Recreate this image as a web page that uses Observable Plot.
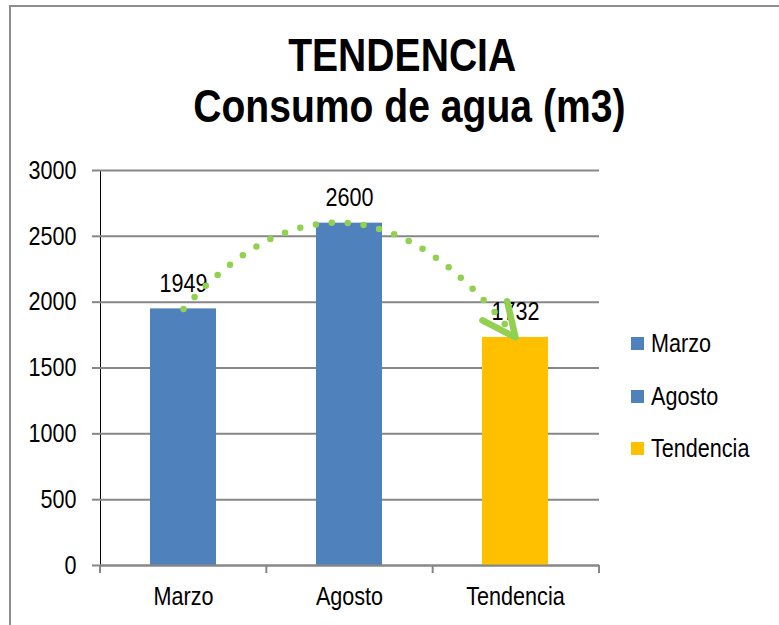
<!DOCTYPE html>
<html>
<head>
<meta charset="utf-8">
<script src="https://cdn.jsdelivr.net/npm/d3@7"></script>
<script src="https://cdn.jsdelivr.net/npm/@observablehq/plot@0.6"></script>
<style>
  body { margin: 0; background: #fff; }
  #wrap { position: relative; width: 779px; height: 625px; overflow: hidden; background: #fff;
          font-family: "Liberation Sans", Arial, sans-serif; color: #000; }
  #frame { position: absolute; left: 9px; top: 5px; width: 900px; height: 900px;
           border-left: 2px solid #8e8e8e; border-top: 2px solid #8e8e8e; }
  #chart { position: absolute; left: 0; top: 0; }
  #title { position: absolute; left: 0; width: 810px; top: 30px; text-align: center;
           font-weight: bold; font-size: 46px; line-height: 51px; }
  #title span { display: inline-block; transform: scaleX(0.85); transform-origin: 50% 50%; white-space: nowrap; }
  #legend { position: absolute; left: 631px; top: 317.5px; font-size: 26px; }
  #legend .item { height: 52.5px; display: flex; align-items: center; white-space: nowrap; }
  #legend .sw { width: 13px; height: 13px; margin-right: 7px; flex: none; }
  #legend span { display: inline-block; transform: scaleX(0.83); transform-origin: 0 50%; }
  #chart g[aria-label^="y-axis"] line, #chart g[aria-label^="y-axis"] path { stroke: #878787; stroke-width: 2px; stroke-opacity: 1; }
</style>
</head>
<body>
<div id="wrap">
  <div id="frame"></div>
  <div id="chart"></div>
  <div id="title"><div><span style="position:relative;left:-3px">TENDENCIA</span></div><div><span style="position:relative;left:4px">Consumo de agua (m3)</span></div></div>
  <div id="legend"></div>
</div>
<script>
const categories = ["Marzo", "Agosto", "Tendencia"];
const values = [1949, 2600, 1732];
const colors = ["#4F81BD", "#4F81BD", "#FFC000"];
const legendNames = ["Marzo", "Agosto", "Tendencia"];
const yTicks = [0, 500, 1000, 1500, 2000, 2500, 3000];

const data = categories.map((c, i) => ({cat: c, value: values[i], color: colors[i]}));

// quadratic curve through three equally spaced points (the hand-drawn trend arc)
function parabola(context) {
  let pts = [];
  return {
    areaStart() {}, areaEnd() {},
    lineStart() { pts = []; },
    point(x, y) { pts.push([+x, +y]); },
    lineEnd() {
      if (pts.length === 3) {
        const [p0, p1, p2] = pts;
        context.moveTo(p0[0], p0[1]);
        context.quadraticCurveTo(2 * p1[0] - (p0[0] + p2[0]) / 2, 2 * p1[1] - (p0[1] + p2[1]) / 2, p2[0], p2[1]);
      } else {
        pts.forEach((p, i) => i ? context.lineTo(p[0], p[1]) : context.moveTo(p[0], p[1]));
      }
    }
  };
}

const font = '"Liberation Sans", Arial, sans-serif';

const plot = Plot.plot({
  width: 779, height: 625,
  marginTop: 170, marginBottom: 60, marginLeft: 100, marginRight: 180,
  style: {fontFamily: font, fontSize: "26px", background: "transparent", color: "#000", overflow: "visible"},
  x: {domain: categories, paddingInner: 0.6, paddingOuter: 0.3, tickSize: 0, tickPadding: 21, label: null},
  y: {domain: [0, 3000], ticks: yTicks, tickSize: 8, tickPadding: 16, tickFormat: d => String(d), label: null, line: true},
  marks: [
    Plot.ruleY(yTicks, {stroke: "#878787", strokeWidth: 2}),
    Plot.barY(data, {x: "cat", y: "value", fill: d => d.color}),
    Plot.ruleY([0], {stroke: "#878787", strokeWidth: 2}),
    Plot.text(data, {x: "cat", y: "value", text: d => String(d.value), dy: -17, lineAnchor: "bottom", fill: "#000"}),
    Plot.line(data, {x: "cat", y: "value", curve: parabola, stroke: "#92D050", strokeWidth: 6.5,
                     strokeDasharray: "0 16", strokeLinecap: "round", markerEnd: "arrow"})
  ]
});
document.getElementById("chart").appendChild(plot);

const svg = d3.select(plot);
// condensed (Arial Narrow–like) text
svg.selectAll("text").each(function () {
  const L = this.getComputedTextLength();
  if (L > 0) {
    this.setAttribute("textLength", (L * 0.83).toFixed(2));
    this.setAttribute("lengthAdjust", "spacingAndGlyphs");
  }
});
// arrowhead of the trend arc
svg.selectAll("marker")
  .attr("viewBox", "-10 -10 20 20")
  .attr("markerWidth", 13.33).attr("markerHeight", 13.33)
  .attr("stroke-dasharray", "none")
  .attr("overflow", "visible");
svg.selectAll("marker path").attr("d", "M-7.8,-3.6L0,0L-7.8,3.6");

// category boundary ticks on the x axis
const xs = plot.scale("x"), ys = plot.scale("y");
const [r0, r1] = xs.range;
const n = xs.domain.length;
const y0 = ys.apply(0);
svg.append("g").selectAll("line").data(d3.range(n + 1)).join("line")
  .attr("x1", i => r0 + i * (r1 - r0) / n).attr("x2", i => r0 + i * (r1 - r0) / n)
  .attr("y1", y0).attr("y2", y0 + 8)
  .attr("stroke", "#878787").attr("stroke-width", 2);

// legend
const leg = d3.select("#legend");
legendNames.forEach((name, i) => {
  const it = leg.append("div").attr("class", "item");
  it.append("div").attr("class", "sw").style("background", colors[i]);
  it.append("span").text(name);
});
</script>
</body>
</html>
